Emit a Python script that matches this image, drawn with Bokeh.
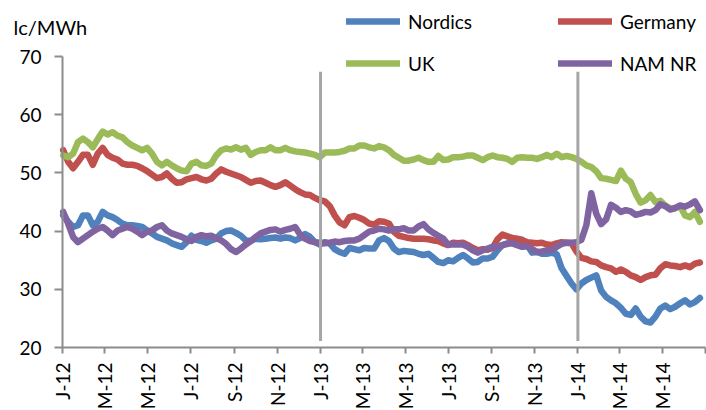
import math
import pandas as pd
from bokeh.plotting import figure
from bokeh.models import (FixedTicker, Legend, LegendItem, Label,
                          ColumnDataSource, Range1d)
from bokeh.embed import file_html
from bokeh.resources import INLINE

# ---------------- data (weekly) ----------------
start_date = "2012-01-02"
n_weeks = 130

nordics = [
    42.7, 41.6, 40.7, 41.0, 42.7, 42.7, 41.0, 41.6, 43.3, 42.7,
    42.4, 41.9, 41.3, 41.0, 41.0, 40.9, 40.7, 40.1, 39.6, 39.0,
    38.7, 38.4, 37.9, 37.6, 37.3, 38.1, 39.2,
    38.5, 38.3, 38.0, 38.4, 38.7, 39.6, 40.0, 40.1, 39.7, 39.2,
    38.4, 38.3, 38.7, 38.6, 38.7, 38.8, 38.9, 38.7, 38.9, 38.8,
    38.4, 38.8, 39.5, 39.0, 38.1, 37.7,
    38.1, 37.9, 36.9, 36.4, 36.1, 37.1, 36.9, 36.7, 37.1, 37.0,
    37.0, 38.4, 38.8, 38.3, 37.0, 36.4, 36.6, 36.5, 36.4, 36.1,
    35.9, 36.1, 35.4, 34.7, 34.5, 35.0,
    34.8, 35.4, 35.9, 35.3, 34.6, 34.7, 35.3, 35.3, 35.6, 36.7,
    37.6, 37.9, 38.1, 38.6, 38.5, 37.7, 36.3, 36.4, 36.1, 36.1,
    36.3, 36.0, 33.6, 32.3, 31.0, 30.0,
    31.0, 31.6, 32.0, 32.4, 29.8, 28.7, 28.1, 27.6, 26.8, 25.8,
    25.6, 26.7, 25.3, 24.5, 24.3, 25.3, 26.7, 27.2, 26.6, 27.0,
    27.6, 28.1, 27.4, 27.8, 28.5,
]

germany = [
    53.9, 51.9, 50.8, 51.9, 53.1, 53.1, 51.4, 53.3, 54.3, 53.1,
    52.6, 52.3, 51.6, 51.4, 51.4, 51.2, 50.8, 50.3, 49.7, 49.1,
    49.3, 49.9, 49.0, 48.3, 48.4, 48.9, 49.1,
    49.3, 48.9, 48.7, 49.0, 49.9, 50.6, 50.2, 49.9, 49.6, 49.3,
    48.8, 48.3, 48.6, 48.7, 48.3, 47.9, 47.6, 47.9, 48.4, 47.8,
    47.2, 46.7, 46.3, 46.2, 45.7, 45.3,
    45.1, 44.3, 42.7, 41.5, 41.0, 42.4, 42.6, 42.3, 41.9, 41.3,
    41.1, 41.7, 41.6, 41.3, 39.9, 39.2, 39.0, 38.8, 38.7, 38.7,
    38.7, 38.6, 38.4, 38.3, 37.9, 37.6,
    38.0, 37.9, 38.0, 37.6, 37.1, 36.7, 36.9, 36.8, 37.1, 38.6,
    39.4, 39.1, 38.8, 38.7, 38.4, 38.1, 38.0, 37.9, 38.0, 37.7,
    37.6, 37.9, 38.1, 38.0, 37.9, 36.5,
    35.4, 35.2, 34.8, 34.7, 34.1, 33.8, 33.6, 33.0, 33.4, 33.0,
    32.4, 32.1, 31.6, 32.1, 32.4, 32.5, 33.6, 34.3, 34.1, 34.0,
    33.8, 34.1, 33.8, 34.4, 34.6,
]

uk = [
    53.0, 52.7, 53.3, 55.3, 55.9, 55.3, 54.4, 55.8, 57.1, 56.6,
    57.0, 56.4, 56.1, 55.3, 54.7, 54.3, 53.9, 54.3, 53.3, 51.9,
    51.3, 51.9, 51.3, 50.8, 50.4, 50.3, 51.6,
    51.9, 51.3, 51.2, 51.6, 53.0, 53.9, 54.2, 54.0, 54.4, 54.0,
    54.3, 53.1, 53.6, 53.9, 53.9, 54.4, 53.9, 53.9, 54.3, 53.9,
    53.7, 53.6, 53.5, 53.3, 53.1, 52.7,
    53.5, 53.5, 53.5, 53.6, 53.8, 54.2, 54.2, 54.7, 54.7, 54.4,
    54.2, 54.6, 54.4, 53.9, 53.1, 52.6, 52.1, 52.1, 52.3, 52.6,
    52.2, 51.9, 51.9, 52.9, 52.2, 52.3,
    52.7, 52.7, 52.8, 53.0, 53.0, 52.6, 52.2, 52.7, 53.0, 52.7,
    52.6, 52.4, 51.9, 52.6, 52.7, 52.6, 52.6, 52.4, 52.7, 53.1,
    52.7, 53.3, 52.7, 52.9, 52.7, 52.4,
    51.9, 51.3, 51.0, 50.3, 49.1, 49.0, 48.8, 48.6, 50.4, 49.0,
    48.4, 46.4, 44.9, 45.3, 46.2, 45.0, 45.2, 44.4, 43.9, 43.9,
    44.3, 42.7, 42.4, 43.3, 41.6,
]

nam_nr = [
    43.3, 41.3, 39.0, 38.1, 38.7, 39.3, 39.9, 40.4, 40.7, 40.1,
    39.3, 40.1, 40.4, 40.7, 40.4, 39.9, 39.3, 39.9, 40.1, 40.7,
    41.0, 40.1, 39.6, 39.3, 39.0, 38.6, 38.3,
    39.0, 39.3, 39.1, 39.2, 38.8, 38.4, 37.8, 36.9, 36.4, 37.0,
    37.7, 38.3, 39.0, 39.6, 39.9, 40.2, 40.3, 39.9, 40.2, 40.4,
    40.7, 39.4, 38.7, 38.3, 38.1, 38.0,
    37.9, 38.0, 38.2, 38.1, 38.3, 38.4, 38.4, 38.7, 39.3, 39.9,
    40.1, 40.4, 40.3, 40.1, 40.3, 40.3, 40.5, 40.1, 40.1, 40.8,
    41.2, 40.3, 39.7, 39.2, 38.7, 37.7,
    37.7, 37.7, 37.7, 37.3, 36.7, 36.3, 36.7, 37.0, 37.3, 37.3,
    37.6, 37.8, 37.9, 37.6, 37.3, 37.4, 36.9, 36.4, 36.5, 36.7,
    36.7, 37.3, 37.8, 38.0, 38.0, 38.1,
    38.5, 41.0, 46.5, 43.0, 41.2, 42.0, 44.5, 44.0, 43.3, 43.6,
    43.4, 42.8, 43.0, 43.3, 43.2, 43.6, 44.6, 44.3, 43.7, 44.0,
    44.4, 44.2, 44.6, 45.1, 43.6,
]

series_names = ["Nordics", "Germany", "UK", "NAM NR"]
series_colors = ["#4F81BD", "#C0504D", "#9BBB59", "#8064A2"]

tick_dates = ["2012-01-01", "2012-03-01", "2012-05-01", "2012-07-01", "2012-09-01",
              "2012-11-01", "2013-01-01", "2013-03-01", "2013-05-01", "2013-07-01",
              "2013-09-01", "2013-11-01", "2014-01-01", "2014-03-01", "2014-05-01"]
tick_labels = ["J-12", "M-12", "M-12", "J-12", "S-12", "N-12", "J-13", "M-13", "M-13",
               "J-13", "S-13", "N-13", "J-14", "M-14", "M-14"]
y_ticks = [20, 30, 40, 50, 60, 70]
x_start, x_end = "2012-01-01", "2014-07-01"

marker_dates = ["2013-01-01", "2014-01-01"]
marker_low = [21.1, 21.1]
marker_high = [67.4, 67.4]

unit_label = "lc/MWh"

# ---------------- layout (pixels on the canvas) ----------------
W, H = 706, 410
AX_L, AX_R = 62, 705      # canvas x of x_start / x_end
AX_T, AX_B = 56, 347      # canvas y of top / bottom y tick
FONT = "Lato"
AXIS_COLOR = "#8C8C8C"

def ms(d):
    return pd.Timestamp(d).value // 10**6

t0, t1 = ms(x_start), ms(x_end)
ms_per_px = (t1 - t0) / (AX_R - AX_L)
u_per_px = (y_ticks[-1] - y_ticks[0]) / (AX_B - AX_T)

x_range = Range1d(t0 - AX_L * ms_per_px, t1 + (W - AX_R) * ms_per_px)
y_range = Range1d(y_ticks[0] - (H - AX_B) * u_per_px, y_ticks[-1] + AX_T * u_per_px)

dates = pd.date_range(start_date, periods=n_weeks, freq="7D")

p = figure(width=W, height=H, x_axis_type="datetime",
           x_range=x_range, y_range=y_range,
           output_backend="svg", toolbar_location=None,
           min_border=0)
p.outline_line_color = None
p.grid.visible = False
p.background_fill_color = "white"

renderers = []
for name, col, vals in zip(series_names, series_colors, [nordics, germany, uk, nam_nr]):
    src = ColumnDataSource(dict(x=dates, y=vals))
    r = p.line("x", "y", source=src, line_color=col, line_width=6.5,
               line_cap="round", line_join="round")
    renderers.append((name, r))

# vertical marker lines
p.segment(x0=[pd.Timestamp(d) for d in marker_dates], y0=marker_low,
          x1=[pd.Timestamp(d) for d in marker_dates], y1=marker_high,
          line_color="#A6A6A6", line_width=3)

# y axis
yax = p.yaxis[0]
yax.fixed_location = t0
yax.bounds = (y_ticks[0], y_ticks[-1])
yax.ticker = FixedTicker(ticks=y_ticks)
yax.minor_tick_line_color = None
yax.major_tick_in = 0
yax.major_tick_out = 8
yax.axis_line_color = AXIS_COLOR
yax.axis_line_width = 2
yax.major_tick_line_color = AXIS_COLOR
yax.major_tick_line_width = 2
yax.major_label_standoff = 13
yax.major_label_text_font = FONT
yax.major_label_text_font_size = "19px"
yax.major_label_text_color = "black"

# x axis
xax = p.xaxis[0]
xax.fixed_location = y_ticks[0]
xax.bounds = (t0, t1)
x_tick_vals = [ms(d) for d in tick_dates] + [t1]
xax.ticker = FixedTicker(ticks=x_tick_vals)
overrides = {ms(d): lab for d, lab in zip(tick_dates, tick_labels)}
overrides[t1] = ""
xax.major_label_overrides = overrides
xax.major_label_orientation = math.pi / 2
xax.minor_tick_line_color = None
xax.major_tick_in = 0
xax.major_tick_out = 6
xax.major_label_standoff = 9
xax.axis_line_color = AXIS_COLOR
xax.axis_line_width = 2
xax.major_tick_line_color = AXIS_COLOR
xax.major_tick_line_width = 2
xax.major_label_text_font = FONT
xax.major_label_text_font_size = "19px"
xax.major_label_text_color = "black"

# unit label
p.add_layout(Label(x=13, y=H - 26, x_units="screen", y_units="screen",
                   text=unit_label, text_font=FONT, text_font_size="20px",
                   text_color="black", text_baseline="alphabetic"))

# legend
legend = Legend(items=[LegendItem(label=n, renderers=[r]) for n, r in renderers],
                location=(346, H - 76), orientation="horizontal", ncols=2,
                glyph_width=54, glyph_height=26, label_height=26, label_width=134,
                label_standoff=8, spacing=16, padding=0, margin=0,
                border_line_color=None, background_fill_alpha=0,
                label_text_font=FONT, label_text_font_size="19px",
                label_text_color="black")
p.add_layout(legend)

open("out.html", "w").write(file_html(p, INLINE))
